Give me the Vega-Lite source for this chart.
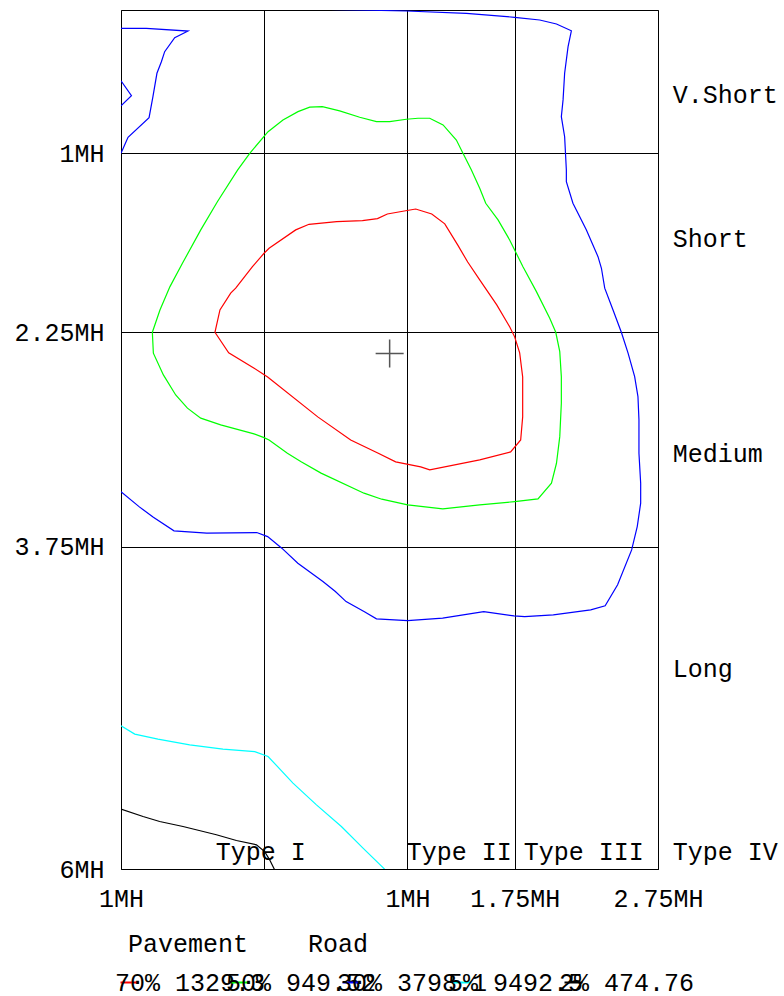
{
  "$schema": "https://vega.github.io/schema/vega-lite/v6.json",
  "width": 537,
  "height": 859,
  "autosize": {"type": "none"},
  "padding": {"left": 121, "top": 10, "right": 126, "bottom": 127},
  "background": "#ffffff",
  "config": {
    "view": {"stroke": "#000000", "strokeWidth": 1},
    "font": "Liberation Mono",
    "axis": {
      "labelFont": "Liberation Mono",
      "labelFontSize": 25,
      "labelColor": "#000000",
      "ticks": false,
      "domain": false,
      "grid": true,
      "gridColor": "#000000",
      "gridOpacity": 1,
      "gridWidth": 1,
      "title": null,
      "labelFlush": false,
      "labelOverlap": false,
      "labelBound": false
    },
    "legend": {
      "orient": "none",
      "legendY": 922,
      "direction": "horizontal",
      "padding": 0,
      "titleFont": "Liberation Mono",
      "titleFontSize": 25,
      "titleFontWeight": "normal",
      "titleColor": "#000000",
      "titlePadding": 13,
      "titleLimit": 2000,
      "labelFont": "Liberation Mono",
      "labelFontSize": 25,
      "labelColor": "#000000",
      "labelLimit": 0,
      "symbolType": "stroke",
      "symbolSize": 324,
      "symbolStrokeWidth": 2,
      "labelOffset": -27
    }
  },
  "resolve": {"scale": {"color": "independent"}, "legend": {"color": "independent"}},
  "datasets": {
    "lines": [
      {"s": "70% 1329.3", "g": "r", "o": 1, "x": -0.344, "y": 2.251},
      {"s": "70% 1329.3", "g": "r", "o": 2, "x": -0.309, "y": 2.095},
      {"s": "70% 1329.3", "g": "r", "o": 3, "x": -0.234, "y": 1.978},
      {"s": "70% 1329.3", "g": "r", "o": 4, "x": -0.199, "y": 1.943},
      {"s": "70% 1329.3", "g": "r", "o": 5, "x": -0.082, "y": 1.793},
      {"s": "70% 1329.3", "g": "r", "o": 6, "x": -0.001, "y": 1.699},
      {"s": "70% 1329.3", "g": "r", "o": 7, "x": 0.034, "y": 1.664},
      {"s": "70% 1329.3", "g": "r", "o": 8, "x": 0.22, "y": 1.536},
      {"s": "70% 1329.3", "g": "r", "o": 9, "x": 0.313, "y": 1.497},
      {"s": "70% 1329.3", "g": "r", "o": 10, "x": 0.506, "y": 1.478},
      {"s": "70% 1329.3", "g": "r", "o": 11, "x": 0.686, "y": 1.471},
      {"s": "70% 1329.3", "g": "r", "o": 12, "x": 0.791, "y": 1.457},
      {"s": "70% 1329.3", "g": "r", "o": 13, "x": 0.86, "y": 1.425},
      {"s": "70% 1329.3", "g": "r", "o": 14, "x": 0.988, "y": 1.402},
      {"s": "70% 1329.3", "g": "r", "o": 15, "x": 1.058, "y": 1.39},
      {"s": "70% 1329.3", "g": "r", "o": 16, "x": 1.17, "y": 1.425},
      {"s": "70% 1329.3", "g": "r", "o": 17, "x": 1.261, "y": 1.494},
      {"s": "70% 1329.3", "g": "r", "o": 18, "x": 1.351, "y": 1.641},
      {"s": "70% 1329.3", "g": "r", "o": 19, "x": 1.421, "y": 1.76},
      {"s": "70% 1329.3", "g": "r", "o": 20, "x": 1.505, "y": 1.885},
      {"s": "70% 1329.3", "g": "r", "o": 21, "x": 1.624, "y": 2.06},
      {"s": "70% 1329.3", "g": "r", "o": 22, "x": 1.715, "y": 2.214},
      {"s": "70% 1329.3", "g": "r", "o": 23, "x": 1.749, "y": 2.283},
      {"s": "70% 1329.3", "g": "r", "o": 24, "x": 1.784, "y": 2.395},
      {"s": "70% 1329.3", "g": "r", "o": 25, "x": 1.805, "y": 2.563},
      {"s": "70% 1329.3", "g": "r", "o": 26, "x": 1.805, "y": 2.842},
      {"s": "70% 1329.3", "g": "r", "o": 27, "x": 1.791, "y": 3.003},
      {"s": "70% 1329.3", "g": "r", "o": 28, "x": 1.721, "y": 3.087},
      {"s": "70% 1329.3", "g": "r", "o": 29, "x": 1.505, "y": 3.142},
      {"s": "70% 1329.3", "g": "r", "o": 30, "x": 1.156, "y": 3.212},
      {"s": "70% 1329.3", "g": "r", "o": 31, "x": 1.093, "y": 3.191},
      {"s": "70% 1329.3", "g": "r", "o": 32, "x": 0.918, "y": 3.156},
      {"s": "70% 1329.3", "g": "r", "o": 33, "x": 0.793, "y": 3.094},
      {"s": "70% 1329.3", "g": "r", "o": 34, "x": 0.604, "y": 3.003},
      {"s": "70% 1329.3", "g": "r", "o": 35, "x": 0.374, "y": 2.842},
      {"s": "70% 1329.3", "g": "r", "o": 36, "x": 0.024, "y": 2.563},
      {"s": "70% 1329.3", "g": "r", "o": 37, "x": -0.073, "y": 2.5},
      {"s": "70% 1329.3", "g": "r", "o": 38, "x": -0.248, "y": 2.395},
      {"s": "70% 1329.3", "g": "r", "o": 39, "x": -0.344, "y": 2.251},

      {"s": "50% 949.52", "g": "g", "o": 1, "x": -0.781, "y": 2.251},
      {"s": "50% 949.52", "g": "g", "o": 2, "x": -0.728, "y": 2.095},
      {"s": "50% 949.52", "g": "g", "o": 3, "x": -0.658, "y": 1.932},
      {"s": "50% 949.52", "g": "g", "o": 4, "x": -0.571, "y": 1.769},
      {"s": "50% 949.52", "g": "g", "o": 5, "x": -0.443, "y": 1.536},
      {"s": "50% 949.52", "g": "g", "o": 6, "x": -0.327, "y": 1.339},
      {"s": "50% 949.52", "g": "g", "o": 7, "x": -0.185, "y": 1.117},
      {"s": "50% 949.52", "g": "g", "o": 8, "x": -0.101, "y": 1.001},
      {"s": "50% 949.52", "g": "g", "o": 9, "x": 0.027, "y": 0.85},
      {"s": "50% 949.52", "g": "g", "o": 10, "x": 0.131, "y": 0.768},
      {"s": "50% 949.52", "g": "g", "o": 11, "x": 0.236, "y": 0.71},
      {"s": "50% 949.52", "g": "g", "o": 12, "x": 0.318, "y": 0.679},
      {"s": "50% 949.52", "g": "g", "o": 13, "x": 0.406, "y": 0.675},
      {"s": "50% 949.52", "g": "g", "o": 14, "x": 0.527, "y": 0.705},
      {"s": "50% 949.52", "g": "g", "o": 15, "x": 0.667, "y": 0.749},
      {"s": "50% 949.52", "g": "g", "o": 16, "x": 0.784, "y": 0.78},
      {"s": "50% 949.52", "g": "g", "o": 17, "x": 0.876, "y": 0.78},
      {"s": "50% 949.52", "g": "g", "o": 18, "x": 0.993, "y": 0.763},
      {"s": "50% 949.52", "g": "g", "o": 19, "x": 1.074, "y": 0.756},
      {"s": "50% 949.52", "g": "g", "o": 20, "x": 1.156, "y": 0.756},
      {"s": "50% 949.52", "g": "g", "o": 21, "x": 1.249, "y": 0.803},
      {"s": "50% 949.52", "g": "g", "o": 22, "x": 1.342, "y": 0.908},
      {"s": "50% 949.52", "g": "g", "o": 23, "x": 1.388, "y": 1.001},
      {"s": "50% 949.52", "g": "g", "o": 24, "x": 1.447, "y": 1.117},
      {"s": "50% 949.52", "g": "g", "o": 25, "x": 1.505, "y": 1.245},
      {"s": "50% 949.52", "g": "g", "o": 26, "x": 1.547, "y": 1.35},
      {"s": "50% 949.52", "g": "g", "o": 27, "x": 1.633, "y": 1.466},
      {"s": "50% 949.52", "g": "g", "o": 28, "x": 1.714, "y": 1.606},
      {"s": "50% 949.52", "g": "g", "o": 29, "x": 1.807, "y": 1.793},
      {"s": "50% 949.52", "g": "g", "o": 30, "x": 1.901, "y": 1.967},
      {"s": "50% 949.52", "g": "g", "o": 31, "x": 1.994, "y": 2.153},
      {"s": "50% 949.52", "g": "g", "o": 32, "x": 2.036, "y": 2.251},
      {"s": "50% 949.52", "g": "g", "o": 33, "x": 2.064, "y": 2.386},
      {"s": "50% 949.52", "g": "g", "o": 34, "x": 2.075, "y": 2.561},
      {"s": "50% 949.52", "g": "g", "o": 35, "x": 2.075, "y": 2.747},
      {"s": "50% 949.52", "g": "g", "o": 36, "x": 2.064, "y": 2.98},
      {"s": "50% 949.52", "g": "g", "o": 37, "x": 2.041, "y": 3.166},
      {"s": "50% 949.52", "g": "g", "o": 38, "x": 2.006, "y": 3.305},
      {"s": "50% 949.52", "g": "g", "o": 39, "x": 1.912, "y": 3.415},
      {"s": "50% 949.52", "g": "g", "o": 40, "x": 1.749, "y": 3.434},
      {"s": "50% 949.52", "g": "g", "o": 41, "x": 1.505, "y": 3.457},
      {"s": "50% 949.52", "g": "g", "o": 42, "x": 1.247, "y": 3.485},
      {"s": "50% 949.52", "g": "g", "o": 43, "x": 1.002, "y": 3.457},
      {"s": "50% 949.52", "g": "g", "o": 44, "x": 0.821, "y": 3.417},
      {"s": "50% 949.52", "g": "g", "o": 45, "x": 0.697, "y": 3.375},
      {"s": "50% 949.52", "g": "g", "o": 46, "x": 0.397, "y": 3.235},
      {"s": "50% 949.52", "g": "g", "o": 47, "x": 0.255, "y": 3.154},
      {"s": "50% 949.52", "g": "g", "o": 48, "x": 0.162, "y": 3.096},
      {"s": "50% 949.52", "g": "g", "o": 49, "x": 0.034, "y": 3.003},
      {"s": "50% 949.52", "g": "g", "o": 50, "x": -0.001, "y": 2.987},
      {"s": "50% 949.52", "g": "g", "o": 51, "x": -0.071, "y": 2.961},
      {"s": "50% 949.52", "g": "g", "o": 52, "x": -0.304, "y": 2.898},
      {"s": "50% 949.52", "g": "g", "o": 53, "x": -0.443, "y": 2.851},
      {"s": "50% 949.52", "g": "g", "o": 54, "x": -0.536, "y": 2.781},
      {"s": "50% 949.52", "g": "g", "o": 55, "x": -0.618, "y": 2.689},
      {"s": "50% 949.52", "g": "g", "o": 56, "x": -0.704, "y": 2.549},
      {"s": "50% 949.52", "g": "g", "o": 57, "x": -0.774, "y": 2.397},
      {"s": "50% 949.52", "g": "g", "o": 58, "x": -0.781, "y": 2.251},

      {"s": "30% 3798.1", "g": "b1", "o": 1, "x": -1.0, "y": 3.364},
      {"s": "30% 3798.1", "g": "b1", "o": 2, "x": -0.874, "y": 3.469},
      {"s": "30% 3798.1", "g": "b1", "o": 3, "x": -0.774, "y": 3.543},
      {"s": "30% 3798.1", "g": "b1", "o": 4, "x": -0.63, "y": 3.638},
      {"s": "30% 3798.1", "g": "b1", "o": 5, "x": -0.401, "y": 3.654},
      {"s": "30% 3798.1", "g": "b1", "o": 6, "x": -0.052, "y": 3.65},
      {"s": "30% 3798.1", "g": "b1", "o": 7, "x": 0.024, "y": 3.678},
      {"s": "30% 3798.1", "g": "b1", "o": 8, "x": 0.123, "y": 3.759},
      {"s": "30% 3798.1", "g": "b1", "o": 9, "x": 0.235, "y": 3.864},
      {"s": "30% 3798.1", "g": "b1", "o": 10, "x": 0.41, "y": 3.992},
      {"s": "30% 3798.1", "g": "b1", "o": 11, "x": 0.497, "y": 4.062},
      {"s": "30% 3798.1", "g": "b1", "o": 12, "x": 0.572, "y": 4.132},
      {"s": "30% 3798.1", "g": "b1", "o": 13, "x": 0.697, "y": 4.202},
      {"s": "30% 3798.1", "g": "b1", "o": 14, "x": 0.784, "y": 4.253},
      {"s": "30% 3798.1", "g": "b1", "o": 15, "x": 1.001, "y": 4.265},
      {"s": "30% 3798.1", "g": "b1", "o": 16, "x": 1.246, "y": 4.248},
      {"s": "30% 3798.1", "g": "b1", "o": 17, "x": 1.533, "y": 4.202},
      {"s": "30% 3798.1", "g": "b1", "o": 18, "x": 1.744, "y": 4.232},
      {"s": "30% 3798.1", "g": "b1", "o": 19, "x": 1.819, "y": 4.237},
      {"s": "30% 3798.1", "g": "b1", "o": 20, "x": 2.019, "y": 4.225},
      {"s": "30% 3798.1", "g": "b1", "o": 21, "x": 2.28, "y": 4.19},
      {"s": "30% 3798.1", "g": "b1", "o": 22, "x": 2.381, "y": 4.162},
      {"s": "30% 3798.1", "g": "b1", "o": 23, "x": 2.468, "y": 4.015},
      {"s": "30% 3798.1", "g": "b1", "o": 24, "x": 2.566, "y": 3.771},
      {"s": "30% 3798.1", "g": "b1", "o": 25, "x": 2.605, "y": 3.608},
      {"s": "30% 3798.1", "g": "b1", "o": 26, "x": 2.629, "y": 3.445},
      {"s": "30% 3798.1", "g": "b1", "o": 27, "x": 2.629, "y": 3.305},
      {"s": "30% 3798.1", "g": "b1", "o": 28, "x": 2.617, "y": 3.096},
      {"s": "30% 3798.1", "g": "b1", "o": 29, "x": 2.617, "y": 2.863},
      {"s": "30% 3798.1", "g": "b1", "o": 30, "x": 2.61, "y": 2.7},
      {"s": "30% 3798.1", "g": "b1", "o": 31, "x": 2.587, "y": 2.561},
      {"s": "30% 3798.1", "g": "b1", "o": 32, "x": 2.541, "y": 2.397},
      {"s": "30% 3798.1", "g": "b1", "o": 33, "x": 2.494, "y": 2.251},
      {"s": "30% 3798.1", "g": "b1", "o": 34, "x": 2.436, "y": 2.095},
      {"s": "30% 3798.1", "g": "b1", "o": 35, "x": 2.378, "y": 1.943},
      {"s": "30% 3798.1", "g": "b1", "o": 36, "x": 2.355, "y": 1.804},
      {"s": "30% 3798.1", "g": "b1", "o": 37, "x": 2.331, "y": 1.723},
      {"s": "30% 3798.1", "g": "b1", "o": 38, "x": 2.25, "y": 1.536},
      {"s": "30% 3798.1", "g": "b1", "o": 39, "x": 2.156, "y": 1.35},
      {"s": "30% 3798.1", "g": "b1", "o": 40, "x": 2.11, "y": 1.199},
      {"s": "30% 3798.1", "g": "b1", "o": 41, "x": 2.11, "y": 1.117},
      {"s": "30% 3798.1", "g": "b1", "o": 42, "x": 2.098, "y": 0.885},
      {"s": "30% 3798.1", "g": "b1", "o": 43, "x": 2.075, "y": 0.745},
      {"s": "30% 3798.1", "g": "b1", "o": 44, "x": 2.087, "y": 0.628},
      {"s": "30% 3798.1", "g": "b1", "o": 45, "x": 2.098, "y": 0.442},
      {"s": "30% 3798.1", "g": "b1", "o": 46, "x": 2.122, "y": 0.256},
      {"s": "30% 3798.1", "g": "b1", "o": 47, "x": 2.145, "y": 0.145},
      {"s": "30% 3798.1", "g": "b1", "o": 48, "x": 2.041, "y": 0.098},
      {"s": "30% 3798.1", "g": "b1", "o": 49, "x": 1.924, "y": 0.07},
      {"s": "30% 3798.1", "g": "b1", "o": 50, "x": 1.749, "y": 0.051},
      {"s": "30% 3798.1", "g": "b1", "o": 51, "x": 1.412, "y": 0.023},
      {"s": "30% 3798.1", "g": "b1", "o": 52, "x": 0.993, "y": 0.007},
      {"s": "30% 3798.1", "g": "b1", "o": 53, "x": 0.422, "y": -0.005},
      {"s": "30% 3798.1", "g": "b1", "o": 54, "x": 0.3, "y": -0.02},

      {"s": "30% 3798.1", "g": "b2", "o": 1, "x": -1.0, "y": 0.128},
      {"s": "30% 3798.1", "g": "b2", "o": 2, "x": -0.823, "y": 0.128},
      {"s": "30% 3798.1", "g": "b2", "o": 3, "x": -0.532, "y": 0.147},
      {"s": "30% 3798.1", "g": "b2", "o": 4, "x": -0.625, "y": 0.193},
      {"s": "30% 3798.1", "g": "b2", "o": 5, "x": -0.695, "y": 0.291},
      {"s": "30% 3798.1", "g": "b2", "o": 6, "x": -0.718, "y": 0.361},
      {"s": "30% 3798.1", "g": "b2", "o": 7, "x": -0.749, "y": 0.442},
      {"s": "30% 3798.1", "g": "b2", "o": 8, "x": -0.777, "y": 0.605},
      {"s": "30% 3798.1", "g": "b2", "o": 9, "x": -0.804, "y": 0.752},
      {"s": "30% 3798.1", "g": "b2", "o": 10, "x": -0.951, "y": 0.889},
      {"s": "30% 3798.1", "g": "b2", "o": 11, "x": -1.0, "y": 1.001},

      {"s": "30% 3798.1", "g": "b3", "o": 1, "x": -1.0, "y": 0.494},
      {"s": "30% 3798.1", "g": "b3", "o": 2, "x": -0.927, "y": 0.598},
      {"s": "30% 3798.1", "g": "b3", "o": 3, "x": -1.0, "y": 0.67},

      {"s": "5% 9492.5", "g": "c", "o": 1, "x": -1.0, "y": 5.0},
      {"s": "5% 9492.5", "g": "c", "o": 2, "x": -0.904, "y": 5.058},
      {"s": "5% 9492.5", "g": "c", "o": 3, "x": -0.742, "y": 5.093},
      {"s": "5% 9492.5", "g": "c", "o": 4, "x": -0.52, "y": 5.133},
      {"s": "5% 9492.5", "g": "c", "o": 5, "x": -0.288, "y": 5.163},
      {"s": "5% 9492.5", "g": "c", "o": 6, "x": -0.066, "y": 5.18},
      {"s": "5% 9492.5", "g": "c", "o": 7, "x": 0.027, "y": 5.214},
      {"s": "5% 9492.5", "g": "c", "o": 8, "x": 0.201, "y": 5.4},
      {"s": "5% 9492.5", "g": "c", "o": 9, "x": 0.365, "y": 5.552},
      {"s": "5% 9492.5", "g": "c", "o": 10, "x": 0.539, "y": 5.703},
      {"s": "5% 9492.5", "g": "c", "o": 11, "x": 0.69, "y": 5.854},
      {"s": "5% 9492.5", "g": "c", "o": 12, "x": 0.841, "y": 6.001},

      {"s": "2% 474.76", "g": "k", "o": 1, "x": -1.0, "y": 5.582},
      {"s": "2% 474.76", "g": "k", "o": 2, "x": -0.846, "y": 5.633},
      {"s": "2% 474.76", "g": "k", "o": 3, "x": -0.73, "y": 5.668},
      {"s": "2% 474.76", "g": "k", "o": 4, "x": -0.567, "y": 5.703},
      {"s": "2% 474.76", "g": "k", "o": 5, "x": -0.334, "y": 5.761},
      {"s": "2% 474.76", "g": "k", "o": 6, "x": -0.194, "y": 5.801},
      {"s": "2% 474.76", "g": "k", "o": 7, "x": -0.054, "y": 5.831},
      {"s": "2% 474.76", "g": "k", "o": 8, "x": 0.003, "y": 5.878},
      {"s": "2% 474.76", "g": "k", "o": 9, "x": 0.038, "y": 5.936},
      {"s": "2% 474.76", "g": "k", "o": 10, "x": 0.073, "y": 6.006}
    ],
    "labels": [
      {"x": -0.339, "y": 5.88, "t": "Type I"},
      {"x": 0.995, "y": 5.88, "t": "Type II"},
      {"x": 1.812, "y": 5.88, "t": "Type III"},
      {"x": 2.853, "y": 5.88, "t": "Type IV"},
      {"x": 2.853, "y": 0.594, "t": "V.Short"},
      {"x": 2.853, "y": 1.599, "t": "Short"},
      {"x": 2.853, "y": 3.101, "t": "Medium"},
      {"x": 2.853, "y": 4.602, "t": "Long"}
    ],
    "cross": [
      {"x": 0.876, "y": 2.399}
    ]
  },
  "encoding": {
    "x": {
      "field": "x", "type": "quantitative",
      "scale": {"domain": [-1, 2.75], "nice": false, "zero": false},
      "axis": {
        "values": [-1, 0, 1, 1.75, 2.75],
        "labelExpr": "datum.value == 0 ? '' : abs(datum.value) + 'MH'",
        "labelPadding": 17
      }
    },
    "y": {
      "field": "y", "type": "quantitative",
      "scale": {"domain": [0, 6], "nice": false, "zero": false, "reverse": true},
      "axis": {
        "values": [1, 2.25, 3.75, 6],
        "labelExpr": "datum.value + 'MH'",
        "labelPadding": 17
      }
    }
  },
  "layer": [
    {
      "data": {"name": "lines"},
      "transform": [{"filter": "datum.s == '70% 1329.3'"}],
      "mark": {"type": "line", "strokeWidth": 1.2, "clip": true},
      "encoding": {
        "color": {
          "field": "s", "type": "nominal",
          "scale": {"domain": ["70% 1329.3"], "range": ["#ff0000"]},
          "legend": {
            "title": "Pavement\u00a0\u00a0\u00a0\u00a0Road",
            "legendX": -4,
            "encode": {"title": {"update": {"dx": {"value": 11}}}}
          }
        },
        "detail": {"field": "g"},
        "order": {"field": "o", "type": "quantitative"}
      }
    },
    {
      "data": {"name": "lines"},
      "transform": [{"filter": "datum.s == '50% 949.52'"}],
      "mark": {"type": "line", "strokeWidth": 1.2, "clip": true},
      "encoding": {
        "color": {
          "field": "s", "type": "nominal",
          "scale": {"domain": ["50% 949.52"], "range": ["#00ff00"]},
          "legend": {"title": "\u00a0", "legendX": 107}
        },
        "detail": {"field": "g"},
        "order": {"field": "o", "type": "quantitative"}
      }
    },
    {
      "data": {"name": "lines"},
      "transform": [{"filter": "datum.s == '30% 3798.1'"}],
      "mark": {"type": "line", "strokeWidth": 1.2, "clip": true},
      "encoding": {
        "color": {
          "field": "s", "type": "nominal",
          "scale": {"domain": ["30% 3798.1"], "range": ["#0000ff"]},
          "legend": {"title": "\u00a0", "legendX": 218}
        },
        "detail": {"field": "g"},
        "order": {"field": "o", "type": "quantitative"}
      }
    },
    {
      "data": {"name": "lines"},
      "transform": [{"filter": "datum.s == '5% 9492.5'"}],
      "mark": {"type": "line", "strokeWidth": 1.2, "clip": true},
      "encoding": {
        "color": {
          "field": "s", "type": "nominal",
          "scale": {"domain": ["5% 9492.5"], "range": ["#00ffff"]},
          "legend": {"title": "\u00a0", "legendX": 329}
        },
        "detail": {"field": "g"},
        "order": {"field": "o", "type": "quantitative"}
      }
    },
    {
      "data": {"name": "lines"},
      "transform": [{"filter": "datum.s == '2% 474.76'"}],
      "mark": {"type": "line", "strokeWidth": 1.2, "clip": true},
      "encoding": {
        "color": {
          "field": "s", "type": "nominal",
          "scale": {"domain": ["2% 474.76"], "range": ["#000000"]},
          "legend": {"title": "\u00a0", "legendX": 440}
        },
        "detail": {"field": "g"},
        "order": {"field": "o", "type": "quantitative"}
      }
    },
    {
      "data": {"name": "labels"},
      "mark": {"type": "text", "align": "left", "baseline": "middle", "font": "Liberation Mono", "fontSize": 25, "color": "#000000", "clip": false},
      "encoding": {
        "text": {"field": "t"}
      }
    },
    {
      "data": {"name": "cross"},
      "mark": {"type": "point", "shape": "M-1,0L1,0M0,-1L0,1", "size": 784, "filled": false, "stroke": "#555555", "strokeWidth": 1.5, "opacity": 1}
    }
  ]
}
